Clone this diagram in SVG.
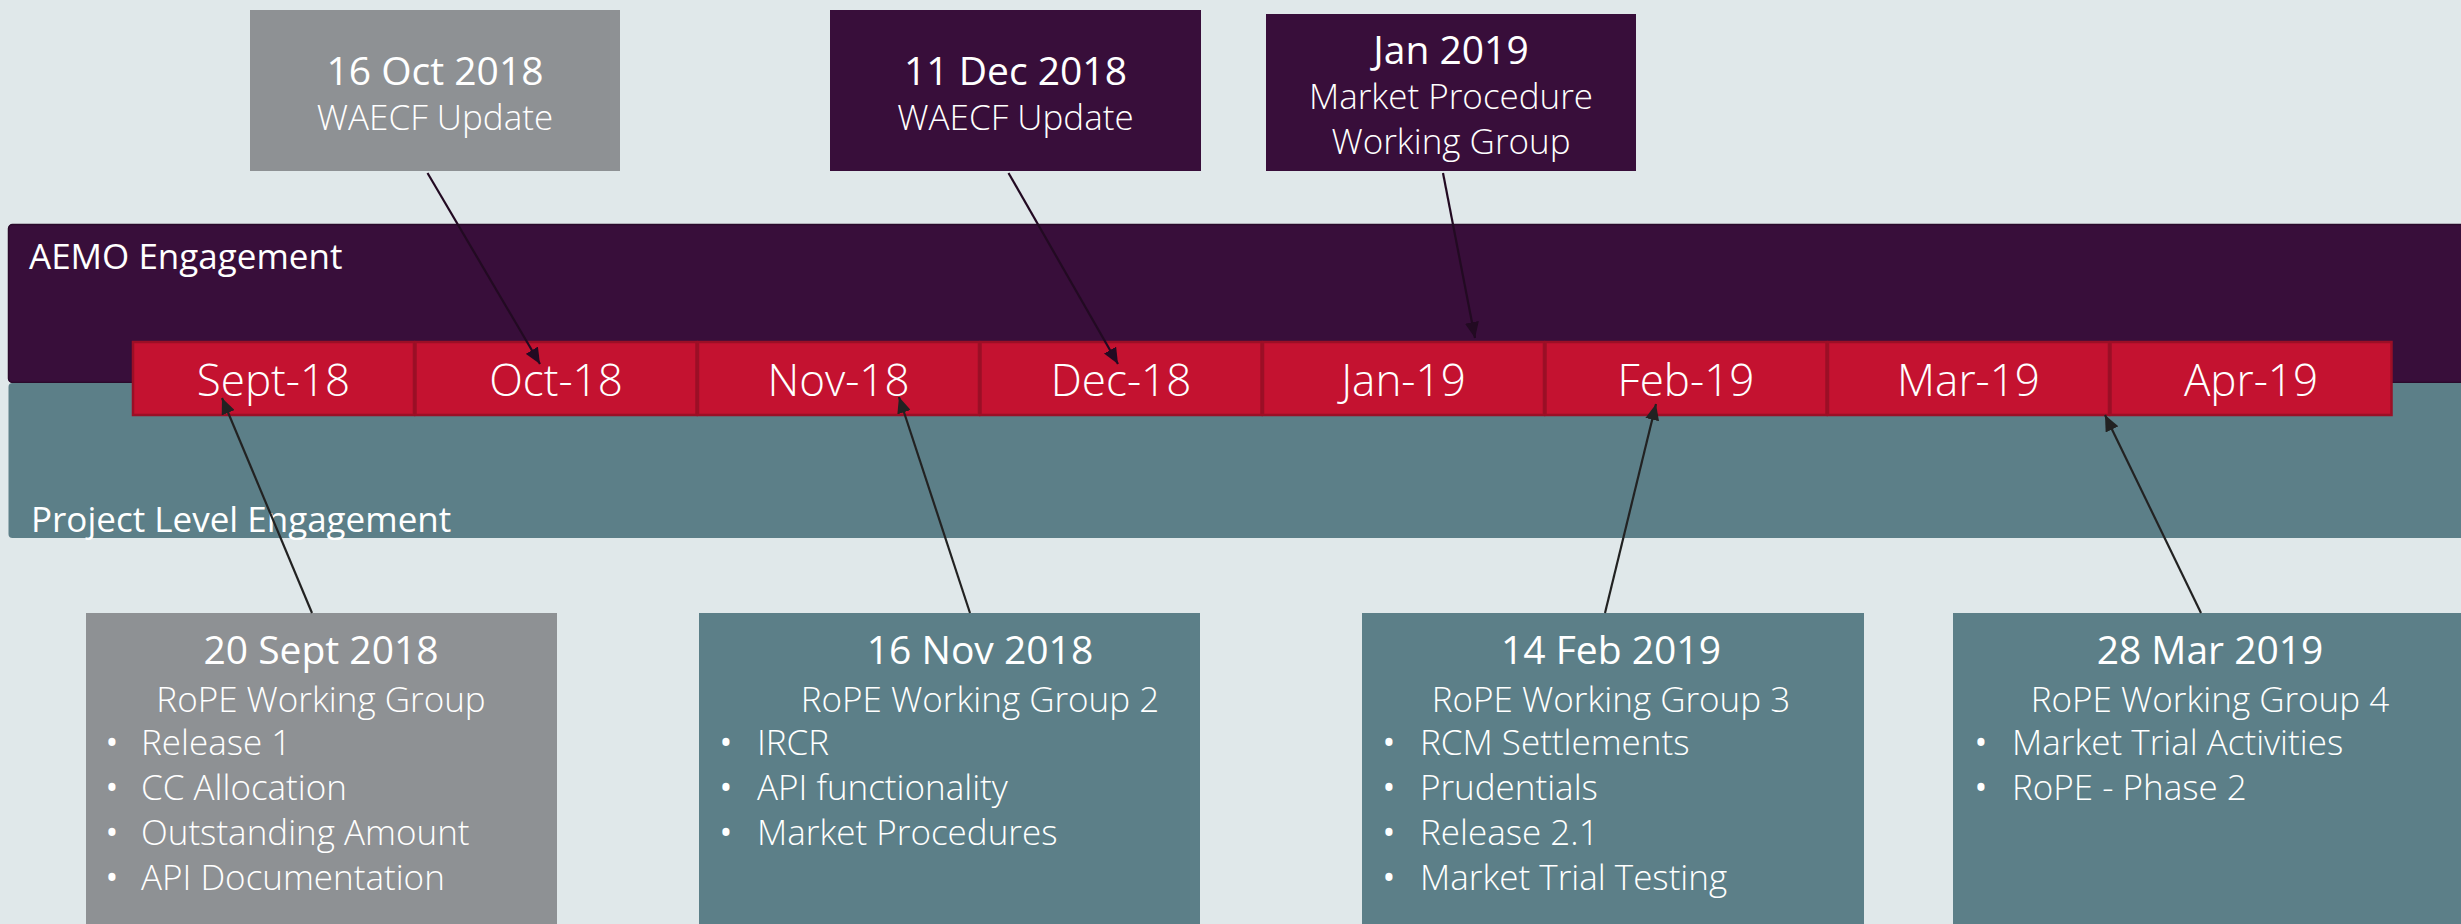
<svg xmlns="http://www.w3.org/2000/svg" width="2461" height="924" viewBox="0 0 2461 924">
<style>
text{font-family:"Open Sans","Noto Sans","Liberation Sans",sans-serif;fill:#ffffff}
.t{font-size:39px;text-anchor:middle}
.s{font-size:35px;font-weight:300;text-anchor:middle}
.b{font-size:35px;font-weight:300}
.d{font-size:34px;font-weight:400;text-anchor:middle}
.m{font-size:44px;font-weight:300;text-anchor:middle}
.band{font-size:35px}
.month{fill:#C41230;stroke:#9B0F26;stroke-width:2.5}
.cp{stroke:#220A22;stroke-width:2.2;fill:none}
.cg{stroke:#222222;stroke-width:2.2;fill:none}
</style>
<defs>
<marker id="ap" viewBox="0 0 16 14" refX="16" refY="7" markerWidth="16" markerHeight="14" markerUnits="userSpaceOnUse" orient="auto"><path d="M0,0 L16,7 L0,14 Z" fill="#220A22"/></marker>
<marker id="ag" viewBox="0 0 16 14" refX="16" refY="7" markerWidth="16" markerHeight="14" markerUnits="userSpaceOnUse" orient="auto"><path d="M0,0 L16,7 L0,14 Z" fill="#222222"/></marker>
</defs>
<rect x="0" y="0" width="2461" height="924" fill="#E0E8EA"/>
<g id="band-aemo">
<rect x="8.5" y="224.5" width="2470" height="158" rx="4" fill="#380E3A" stroke="#2A0A2B" stroke-width="1.5"/>
<text class="band" x="29" y="269">AEMO Engagement</text>
</g>
<g id="band-project">
<rect x="8.5" y="383" width="2470" height="155" rx="4" fill="#5C7F88"/>
<text class="band" x="31" y="532">Project Level Engagement</text>
</g>
<g id="months">
<g id="m-sep"><rect class="month" x="133" y="342" width="281" height="73"/><text class="m" x="273.5" y="396">Sept-18</text></g>
<g id="m-oct"><rect class="month" x="415.5" y="342" width="281" height="73"/><text class="m" x="556" y="396">Oct-18</text></g>
<g id="m-nov"><rect class="month" x="698" y="342" width="281" height="73"/><text class="m" x="838.5" y="396">Nov-18</text></g>
<g id="m-dec"><rect class="month" x="980.5" y="342" width="281" height="73"/><text class="m" x="1121" y="396">Dec-18</text></g>
<g id="m-jan"><rect class="month" x="1263" y="342" width="281" height="73"/><text class="m" x="1403.5" y="396">Jan-19</text></g>
<g id="m-feb"><rect class="month" x="1545.5" y="342" width="281" height="73"/><text class="m" x="1686" y="396">Feb-19</text></g>
<g id="m-mar"><rect class="month" x="1828" y="342" width="281" height="73"/><text class="m" x="1968.5" y="396">Mar-19</text></g>
<g id="m-apr"><rect class="month" x="2110.5" y="342" width="281" height="73"/><text class="m" x="2251" y="396">Apr-19</text></g>
</g>
<g id="ev-oct">
<rect x="250" y="10" width="370" height="161" fill="#8E9194"/>
<text class="t" x="435" y="85">16 Oct 2018</text>
<text class="s" x="435" y="130">WAECF Update</text>
</g>
<g id="ev-dec">
<rect x="830" y="10" width="371" height="161" fill="#380E3A"/>
<text class="t" x="1015.5" y="85">11 Dec 2018</text>
<text class="s" x="1015.5" y="130">WAECF Update</text>
</g>
<g id="ev-jan">
<rect x="1266" y="14" width="370" height="157" fill="#380E3A"/>
<text class="t" x="1451" y="64">Jan 2019</text>
<text class="s" x="1451" y="109">Market Procedure</text>
<text class="s" x="1451" y="154">Working Group</text>
</g>
<g id="wg-1">
<rect x="86" y="613" width="471" height="320" fill="#8E9194"/>
<text class="t" x="321" y="664">20 Sept 2018</text>
<text class="s" x="321" y="712">RoPE Working Group</text>
<text class="d" x="112" y="755">•</text><text class="b" x="141" y="755">Release 1</text>
<text class="d" x="112" y="800">•</text><text class="b" x="141" y="800">CC Allocation</text>
<text class="d" x="112" y="845">•</text><text class="b" x="141" y="845">Outstanding Amount</text>
<text class="d" x="112" y="890">•</text><text class="b" x="141" y="890">API Documentation</text>
</g>
<g id="wg-2">
<rect x="699" y="613" width="501" height="320" fill="#5C7F88"/>
<text class="t" x="980" y="664">16 Nov 2018</text>
<text class="s" x="980" y="712">RoPE Working Group 2</text>
<text class="d" x="726" y="755">•</text><text class="b" x="757" y="755">IRCR</text>
<text class="d" x="726" y="800">•</text><text class="b" x="757" y="800">API functionality</text>
<text class="d" x="726" y="845">•</text><text class="b" x="757" y="845">Market Procedures</text>
</g>
<g id="wg-3">
<rect x="1362" y="613" width="502" height="320" fill="#5C7F88"/>
<text class="t" x="1611" y="664">14 Feb 2019</text>
<text class="s" x="1611" y="712">RoPE Working Group 3</text>
<text class="d" x="1389" y="755">•</text><text class="b" x="1420" y="755">RCM Settlements</text>
<text class="d" x="1389" y="800">•</text><text class="b" x="1420" y="800">Prudentials</text>
<text class="d" x="1389" y="845">•</text><text class="b" x="1420" y="845">Release 2.1</text>
<text class="d" x="1389" y="890">•</text><text class="b" x="1420" y="890">Market Trial Testing</text>
</g>
<g id="wg-4">
<rect x="1953" y="613" width="520" height="320" fill="#5C7F88"/>
<text class="t" x="2210" y="664">28 Mar 2019</text>
<text class="s" x="2210" y="712">RoPE Working Group 4</text>
<text class="d" x="1981" y="755">•</text><text class="b" x="2012" y="755">Market Trial Activities</text>
<text class="d" x="1981" y="800">•</text><text class="b" x="2012" y="800">RoPE - Phase 2</text>
</g>
<g id="connectors">
<line class="cp" x1="427.5" y1="173" x2="540" y2="364" marker-end="url(#ap)"/>
<line class="cp" x1="1008.5" y1="173" x2="1118" y2="364" marker-end="url(#ap)"/>
<line class="cp" x1="1443" y1="173" x2="1475" y2="338" marker-end="url(#ap)"/>
<line class="cg" x1="312" y1="613" x2="222" y2="398" marker-end="url(#ag)"/>
<line class="cg" x1="970" y1="613" x2="899" y2="397" marker-end="url(#ag)"/>
<line class="cg" x1="1605" y1="613" x2="1656" y2="404" marker-end="url(#ag)"/>
<line class="cg" x1="2201" y1="613" x2="2105" y2="415" marker-end="url(#ag)"/>
</g>
</svg>
